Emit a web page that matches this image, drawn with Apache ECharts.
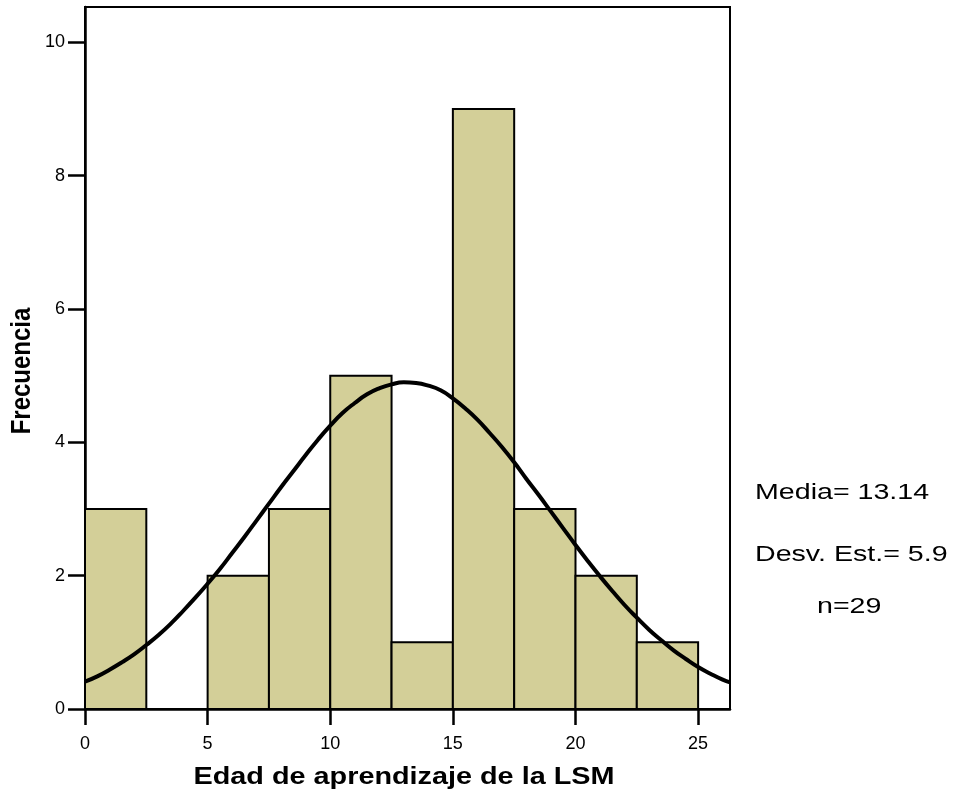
<!DOCTYPE html>
<html>
<head>
<meta charset="utf-8">
<script src="https://cdn.jsdelivr.net/npm/echarts@6/dist/echarts.min.js"></script>
<style>html,body{margin:0;padding:0;background:#fff;}#c{width:959px;height:800px;}</style>
</head>
<body>
<div id="c"></div>
<script>
// Histogram bins: [start, end]
var binStarts = [0, 2.5, 5, 7.5, 10, 12.5, 15, 17.5, 20, 22.5];
var binEnds   = [2.5, 5, 7.5, 10, 12.5, 15, 17.5, 20, 22.5, 25];
var counts    = [3, 0, 2, 3, 5, 1, 9, 3, 2, 1];

// Normal curve points
var curveX = [0, 0.5, 1, 1.5, 2, 2.5, 3, 3.5, 4, 4.5, 5, 5.5, 6, 6.5, 7, 7.5, 8, 8.5, 9, 9.5, 10, 10.5, 11, 11.5, 12, 12.5, 13, 13.5, 14, 14.5, 15, 15.5, 16, 16.5, 17, 17.5, 18, 18.5, 19, 19.5, 20, 20.5, 21, 21.5, 22, 22.5, 23, 23.5, 24, 24.5, 25, 25.5, 26, 26.3];
var curveY = [0.41, 0.49, 0.59, 0.70, 0.82, 0.96, 1.11, 1.28, 1.47, 1.67, 1.88, 2.10, 2.34, 2.58, 2.83, 3.08, 3.33, 3.57, 3.81, 4.04, 4.25, 4.44, 4.59, 4.72, 4.81, 4.87, 4.90, 4.89, 4.85, 4.78, 4.66, 4.51, 4.34, 4.14, 3.93, 3.70, 3.45, 3.21, 2.96, 2.71, 2.46, 2.22, 1.99, 1.77, 1.56, 1.37, 1.19, 1.03, 0.88, 0.75, 0.63, 0.53, 0.44, 0.40];

var xTicks = [0, 5, 10, 15, 20, 25];
var yTicks = [0, 2, 4, 6, 8, 10];
var xTitle = 'Edad de aprendizaje de la LSM';
var yTitle = 'Frecuencia';
var statsLines = ['Media= 13.14', 'Desv. Est.= 5.9', 'n=29'];

var barData = binStarts.map(function (s, i) { return [s, binEnds[i], counts[i]]; });
var lineData = curveX.map(function (x, i) { return [x, curveY[i]]; });

var chart = echarts.init(document.getElementById('c'), null, {renderer: 'canvas'});
var font = 'Liberation Sans, Arial, sans-serif';
chart.setOption({
  animation: false,
  backgroundColor: '#ffffff',
  grid: {left: 85, top: 7, right: 229, bottom: 91, show: true, borderColor: '#000', borderWidth: 2,
         backgroundColor: 'transparent', containLabel: false, outerBoundsMode: 'none'},
  xAxis: {
    type: 'value', min: 0, max: 26.3,
    axisLine: {show: true, lineStyle: {color: '#000', width: 2.5}},
    axisTick: {show: true, length: 16, inside: false, lineStyle: {color: '#000', width: 2.5}, customValues: xTicks},
    axisLabel: {fontFamily: font, fontSize: 18, color: '#000', margin: 26, customValues: xTicks},
    splitLine: {show: false}
  },
  yAxis: {
    type: 'value', min: 0, max: 10.53,
    axisLine: {show: true, lineStyle: {color: '#000', width: 2.5}},
    axisTick: {show: true, length: 17, lineStyle: {color: '#000', width: 2.5}, customValues: yTicks},
    axisLabel: {fontFamily: font, fontSize: 18, color: '#000', margin: 20, customValues: yTicks},
    splitLine: {show: false}
  },
  series: [
    {
      type: 'custom',
      data: barData,
      encode: {x: [0, 1], y: 2},
      renderItem: function (params, api) {
        var p0 = api.coord([api.value(0), api.value(2)]);
        var p1 = api.coord([api.value(1), 0]);
        return {
          type: 'rect',
          shape: {x: p0[0], y: p0[1], width: p1[0] - p0[0], height: p1[1] - p0[1]},
          style: {fill: '#d3cf98', stroke: '#000', lineWidth: 2}
        };
      },
      z: 2
    },
    {
      type: 'line',
      data: lineData,
      smooth: true,
      showSymbol: false,
      lineStyle: {color: '#000', width: 4},
      z: 3
    }
  ],
  graphic: [
    {type: 'text', x: 404, y: 777, scaleX: 1.2,
     style: {text: xTitle, fontFamily: font, fontSize: 24, fontWeight: 'bold', fill: '#000', align: 'center', verticalAlign: 'middle'}},
    {type: 'text', x: 22, y: 371, rotation: Math.PI / 2, scaleY: 1.15,
     style: {text: yTitle, fontFamily: font, fontSize: 24, fontWeight: 'bold', fill: '#000', align: 'center', verticalAlign: 'middle'}},
    {type: 'text', x: 755, y: 482, scaleX: 1.3, style: {text: statsLines[0], fontFamily: font, fontSize: 22, fill: '#000'}},
    {type: 'text', x: 755, y: 544, scaleX: 1.3, style: {text: statsLines[1], fontFamily: font, fontSize: 22, fill: '#000'}},
    {type: 'text', x: 817, y: 596, scaleX: 1.3, style: {text: statsLines[2], fontFamily: font, fontSize: 22, fill: '#000'}}
  ]
});
</script>
</body>
</html>
